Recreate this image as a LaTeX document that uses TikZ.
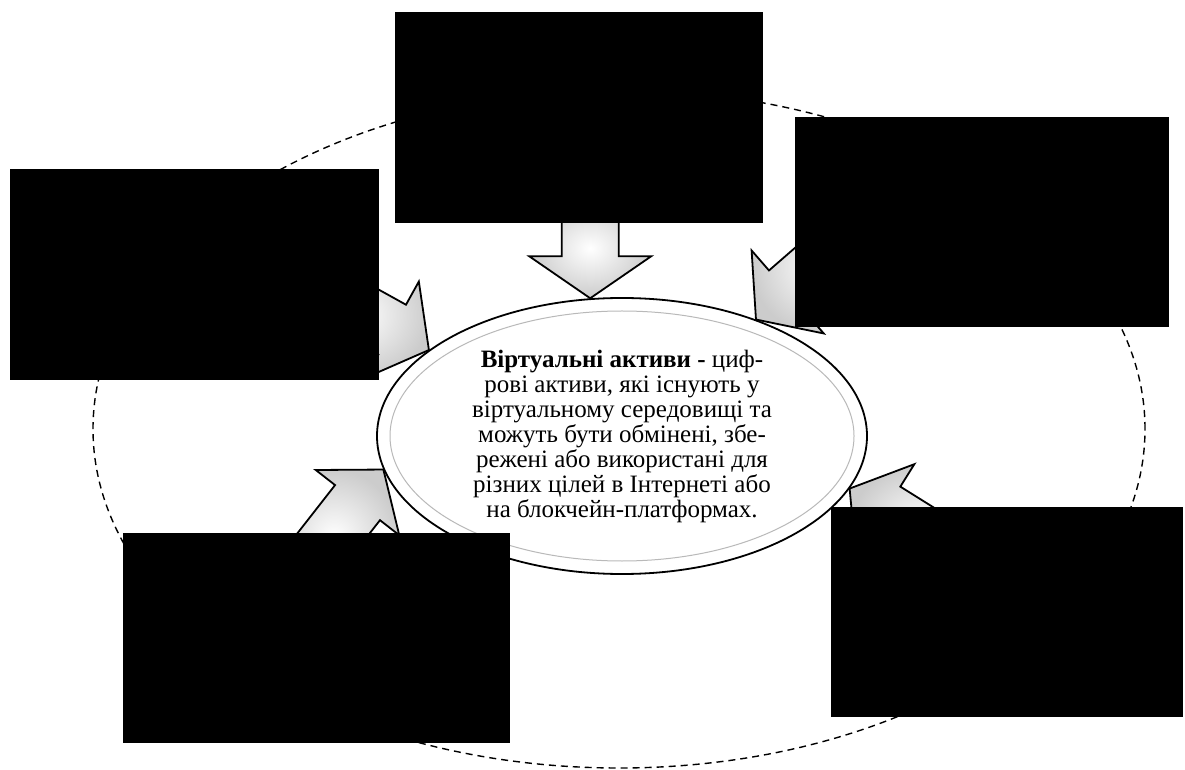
\documentclass[tikz,border=0pt]{standalone}
\usepackage{fontspec}
\setmainfont{Liberation Serif}
\usetikzlibrary{calc,shapes.geometric}
\pgfdeclarelayer{under}
\pgfsetlayers{under,main}
\newcommand{\blockarrow}[3]{%
  \coordinate (hb) at ($(#2)!42pt!(#1)$);
  \draw[blockarr] ($(hb)!#3!90:(#2)$) -- (#2) -- ($(hb)!#3!-90:(#2)$)
    -- ($(hb)!28.5pt!-90:(#2)$) -- ($(#1)!28.5pt!-90:(hb)$)
    -- ($(#1)!28.5pt!90:(hb)$) -- ($(hb)!28.5pt!90:(#2)$) -- cycle;
}
\begin{document}
\begin{tikzpicture}[x=1pt,y=1pt,
  box/.style={fill=black,inner sep=0pt,outer sep=0pt},
  blockarr/.style={draw=black,line width=1.8pt,line join=miter,inner color=white,outer color=gray!40},
  ring/.style={draw=black,dash pattern=on 7pt off 5pt,line width=1.4pt},
  core/.style={ellipse,draw=black,fill=white,line width=1.8pt,minimum width=490pt,minimum height=276pt,
    inner sep=0pt,align=center,font=\fontsize{25}{25}\selectfont}]
\useasboundingbox (0,0) rectangle (1185,769);
\node[core] (core) at (622,333) {\textbf{Віртуальні активи -} циф-\\рові активи, які існують у\\віртуальному середовищі та\\можуть бути обмінені, збе-\\режені або використані для\\різних цілей в Інтернеті або\\на блокчейн-платформах.};
\draw[gray!55,line width=1pt] (core.center) ellipse [x radius=232,y radius=125];
\node[box,minimum width=368pt,minimum height=211pt] (topbox) at (579,651.5) {};
\node[box,minimum width=369pt,minimum height=211pt] (leftbox) at (194.5,494.5) {};
\node[box,minimum width=374pt,minimum height=210pt] (rightbox) at (982,547) {};
\node[box,minimum width=387pt,minimum height=210pt] (blbox) at (316.5,131) {};
\node[box,minimum width=352pt,minimum height=210pt] (brbox) at (1007,157) {};
\coordinate (topstart) at ($(core.103)+(90:100)$);
\coordinate (ulstart) at ($(core.156)+(151:150)$);
\coordinate (urstart) at ($(core.41)+(41:150)$);
\coordinate (blstart) at ($(core.188)+(232:150)$);
\coordinate (brstart) at ($(core.347)+(-32:150)$);
\begin{pgfonlayer}{under}
\draw[ring] (619,340) ellipse [x radius=526,y radius=339];
\blockarrow{topstart}{core.103}{61pt}
\blockarrow{ulstart}{core.156}{55pt}
\blockarrow{urstart}{core.41}{55pt}
\blockarrow{blstart}{core.188}{53pt}
\blockarrow{brstart}{core.347}{55pt}
\end{pgfonlayer}
\end{tikzpicture}
\end{document}
